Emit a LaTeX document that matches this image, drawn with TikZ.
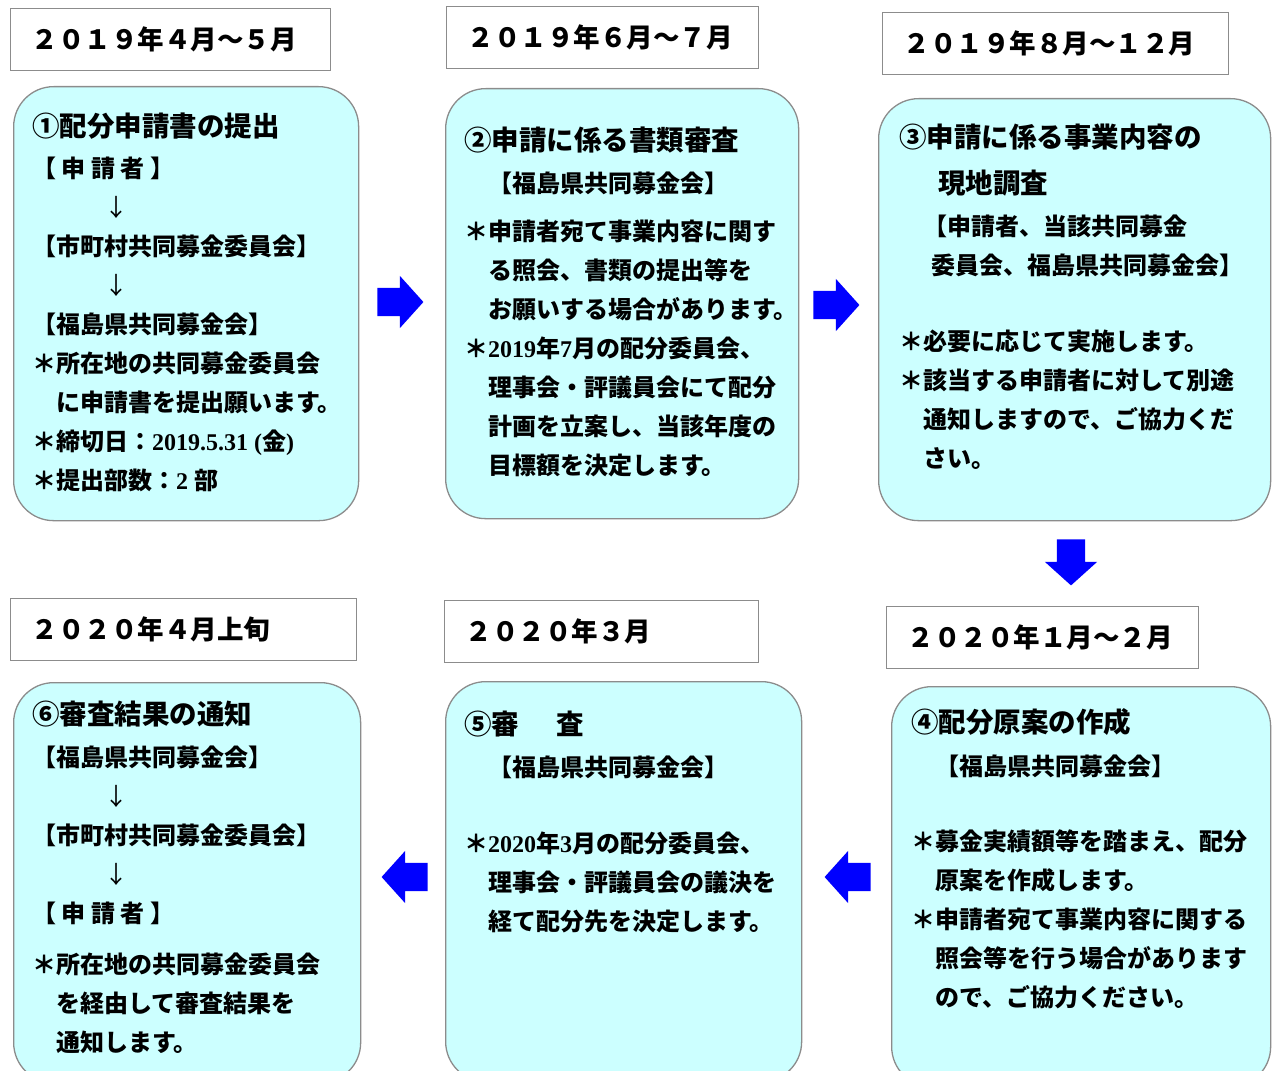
\documentclass[tikz,border=0pt]{standalone}
\usepackage{fontspec}
\usetikzlibrary{shapes.arrows}
\newfontfamily\jpfont{Noto Sans CJK JP}
\newfontfamily\latinnum{Liberation Serif}
\definecolor{stagefill}{HTML}{CCFFFF}
\definecolor{framegray}{HTML}{8C8C8C}
\newcommand{\stagetitle}{\fontsize{27.5}{39}\selectfont}
\newcommand{\thinarrow}{{\mdseries ↓}}
\tikzset{
  stagebox/.style={draw=framegray, line width=1.3pt, fill=stagefill,
    rounded corners=40pt, anchor=north west, inner sep=0pt},
  datebox/.style={draw=framegray, line width=1.2pt, fill=white,
    minimum height=62pt, inner xsep=21pt, inner ysep=0pt, align=left,
    anchor=north west, font=\jpfont\bfseries\fontsize{26.5}{30}\selectfont},
  % anchored at the baseline of the last line
  stagetext/.style={anchor=base west, inner sep=0pt, align=left,
    font=\jpfont\bfseries\fontsize{24}{39}\selectfont},
  blockarrow/.style={single arrow, fill=blue, draw=none,
    inner xsep=0pt, inner ysep=14pt, minimum height=46pt,
    single arrow head extend=12pt, single arrow tip angle=96},
}
\begin{document}
\begin{tikzpicture}[x=1pt, y=-1pt]
	% page frame
	\useasboundingbox (0,0) rectangle (1273,1070);
	\clip (0,0) rectangle (1273,1070);
	% stage boxes: name/x/y/width/height
	\foreach \name/\x/\y/\w/\h in {s1/13/86/345/434, s2/445/88/353/430,
		s3/878/98/392/422, s4/891/686/379/400,
		s5/445/681/356/400, s6/13/682/347/400}
	{
		\node[stagebox, minimum width=\w, minimum height=\h] (\name) at (\x,\y) {};
	}
	% date boxes
	\foreach \name/\x/\y/\w/\txt in {d1/10/8/320/２０１９年４月～５月,
		d2/446/6/312/２０１９年６月～７月,
		d3/882/12/346/２０１９年８月～１２月,
		d4/10/598/346/２０２０年４月上旬,
		d5/444/600/314/２０２０年３月,
		d6/886/606/312/２０２０年１月～２月}
	{
		\pgfmathsetmacro\tw{\w-42}
		\node[datebox, text width=\tw pt] (\name) at (\x,\y) {\txt};
	}
	% stage texts
	\node[stagetext] (t1) at ([shift={(19,403)}]s1.north west) {%
		{\stagetitle ①配分申請書の提出}\\[2pt]
		【 申 請 者 】\\
		\hspace{3em}\thinarrow\\
		【市町村共同募金委員会】\\
		\hspace{3em}\thinarrow\\
		【福島県共同募金会】\\
		＊所在地の共同募金委員会\\
		\hspace{1em}に申請書を提出願います。\\
		＊締切日：{\latinnum 2019.5.31 (}金{\latinnum )}\\
		＊提出部数：{\latinnum 2 }部};
	\node[stagetext] (t2) at ([shift={(19,386)}]s2.north west) {%
		{\stagetitle ②申請に係る書類審査}\\[3pt]
		\hspace{1em}【福島県共同募金会】\\[9pt]
		＊申請者宛て事業内容に関す\\
		\hspace{1em}る照会、書類の提出等を\\
		\hspace{1em}お願いする場合があります。\\
		＊{\latinnum 2019}年{\latinnum 7}月の配分委員会、\\
		\hspace{1em}理事会・評議員会にて配分\\
		\hspace{1em}計画を立案し、当該年度の\\
		\hspace{1em}目標額を決定します。};
	\node[stagetext] (t3) at ([shift={(21,369)}]s3.north west) {%
		{\stagetitle ③申請に係る事業内容の}\\[7pt]
		{\stagetitle\hspace{39pt}現地調査}\\[3pt]
		\hspace{1em}【申請者、当該共同募金\\
		\hspace{32pt}委員会、福島県共同募金会】\\[37pt]
		＊必要に応じて実施します。\\
		＊該当する申請者に対して別途\\
		\hspace{1em}通知しますので、ご協力くだ\\
		\hspace{1em}さい。};
	\node[stagetext] (t4) at ([shift={(20,320)}]s4.north west) {%
		{\stagetitle ④配分原案の作成}\\[4pt]
		\hspace{1em}【福島県共同募金会】\\[36pt]
		＊募金実績額等を踏まえ、配分\\
		\hspace{1em}原案を作成します。\\
		＊申請者宛て事業内容に関する\\
		\hspace{1em}照会等を行う場合があります\\
		\hspace{1em}ので、ご協力ください。};
	\node[stagetext] (t5) at ([shift={(19,249)}]s5.north west) {%
		{\stagetitle ⑤審\hspace{37pt}査}\\[3pt]
		\hspace{1em}【福島県共同募金会】\\[37pt]
		＊{\latinnum 2020}年{\latinnum 3}月の配分委員会、\\
		\hspace{1em}理事会・評議員会の議決を\\
		\hspace{1em}経て配分先を決定します。};
	\node[stagetext] (t6) at ([shift={(19,369)}]s6.north west) {%
		{\stagetitle ⑥審査結果の通知}\\[3pt]
		【福島県共同募金会】\\
		\hspace{3em}\thinarrow\\
		【市町村共同募金委員会】\\
		\hspace{3em}\thinarrow\\
		【 申 請 者 】\\[12pt]
		＊所在地の共同募金委員会\\
		\hspace{1em}を経由して審査結果を\\
		\hspace{1em}通知します。};
	% block arrows between stages (node centre sits 6pt behind the middle)
	\foreach \name/\pos/\rot in {a12/{(394,302)}/0, a23/{(830,305)}/0,
		a34/{(1071,556)}/270, a45/{(854,877)}/180, a56/{(411,877)}/180}
	{
		\node[blockarrow, rotate=\rot] (\name) at \pos {};
	}
\end{tikzpicture}
\end{document}
